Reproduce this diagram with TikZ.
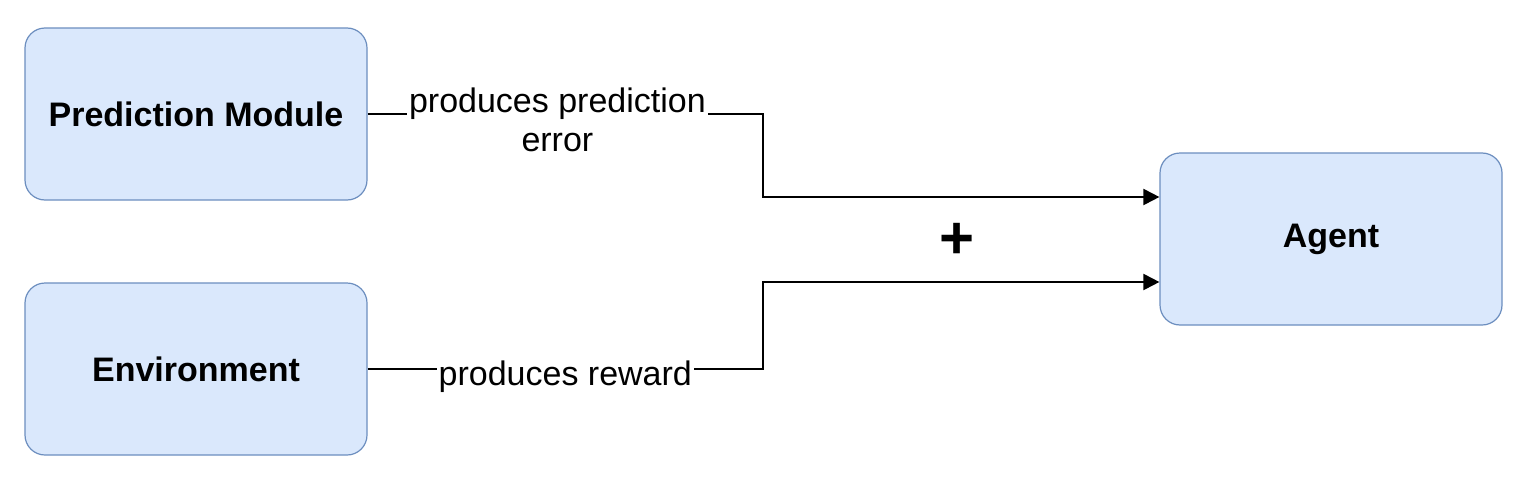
\documentclass[tikz,border=0pt]{standalone}
\usepackage{fontspec}
\setmainfont{Liberation Sans}
\usetikzlibrary{arrows.meta}
\definecolor{boxfill}{HTML}{DAE8FC}
\definecolor{boxline}{HTML}{6C8EBF}
\begin{document}
\begin{tikzpicture}[x=0.5pt,y=-0.5pt,
	module/.style={draw=boxline,fill=boxfill,rounded corners=10pt,line width=0.6pt,
		minimum width=171pt,minimum height=86pt,font=\fontsize{17}{20}\selectfont\bfseries},
	flow/.style={line width=1pt,-{Triangle[length=8pt,width=8pt]}},
	edgetext/.style={fill=white,align=center,inner sep=1pt,font=\fontsize{17}{19.5}\selectfont}]
\useasboundingbox (0,0) rectangle (1524,482);

\node[module] (pred) at (196,114) {Prediction Module};
\node[module] (env) at (196,369) {Environment};
\node[module] (agent) at (1331,239) {Agent};
\coordinate (split) at (763,239);

\draw[flow] (pred.east) -- node[edgetext,pos=0.48,yshift=-3pt] {produces prediction\\error} (pred.east -| split) |- ([yshift=21pt]agent.west);
\draw[flow] (env.east) -- node[edgetext,pos=0.5,yshift=-4pt] {produces reward} (env.east -| split) |- ([yshift=-21.5pt]agent.west);

\node[font=\fontsize{30}{30}\selectfont\bfseries] (plus) at (957,241) {+};
\end{tikzpicture}
\end{document}
